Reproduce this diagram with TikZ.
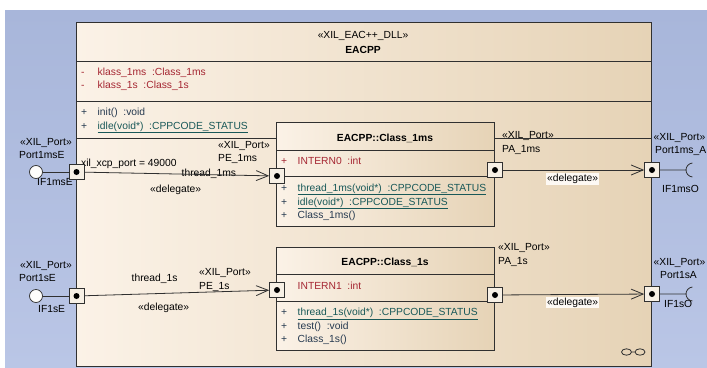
\documentclass[tikz,border=0pt]{standalone}
\usepackage{fontspec}
\setmainfont{Liberation Sans}
\usetikzlibrary{positioning}
\usetikzlibrary{arrows.meta}

\definecolor{bgtop}{RGB}{168,182,218}
\definecolor{bgbot}{RGB}{186,198,230}
\definecolor{boxl}{RGB}{251,242,231}
\definecolor{boxr}{RGB}{230,211,182}
\definecolor{attrred}{RGB}{165,38,50}
\definecolor{opblue}{RGB}{38,58,80}
\definecolor{opteal}{RGB}{24,88,88}
\definecolor{edgegray}{RGB}{48,48,48}
\definecolor{portfill}{RGB}{247,240,229}

\begin{document}
\begin{tikzpicture}[
  x=1pt, y=-1pt,
  classbox/.style={draw=edgegray,line width=0.8pt,left color=boxl,right color=boxr,inner sep=0pt},
  port/.style={draw=edgegray,line width=0.7pt,fill=portfill,minimum size=15pt,inner sep=0pt,
    path picture={\fill[black] (path picture bounding box.center) circle (3pt);}},
  ball/.style={draw=edgegray,line width=0.7pt,circle,fill=white!85!boxl,minimum size=13pt,inner sep=0pt},
  txt/.style={anchor=base west,inner sep=0pt,font=\fontsize{10.3}{12}\selectfont},
  ctxt/.style={txt,anchor=base},
  bold/.style={txt,anchor=base,font=\fontsize{10.3}{12}\selectfont\bfseries},
  dlbl/.style={txt,fill=white!55!boxl,inner sep=1pt},
  delegate/.style={draw=edgegray,line width=0.8pt,-{Straight Barb[length=12pt,width=10pt]}},
  wire/.style={draw=edgegray,line width=0.8pt},
  sep/.style={draw=edgegray,line width=0.8pt}
]
  \shade[top color=bgtop,bottom color=bgbot] (5,10) rectangle (707,367);
  \useasboundingbox (0,0) rectangle (707,367);

  % component EACPP
  \node[classbox,minimum width=575pt,minimum height=344pt] (eacpp) at (363.5,194.5) {};
  \draw[sep] (76,61) -- (651,61);
  \draw[sep] (76,101) -- (651,101);
  \draw[sep] (76,138) -- (651,138);
  \node[ctxt] (ster) at (363,38.5) {«XIL\_EAC++\_DLL»};
  \node[bold] (eacname) at (363,53) {EACPP};
  \node[txt,attrred] (am1) at (81,75) {-};
  \node[txt,attrred] (a1) at (97.5,75) {klass\_1ms \ :Class\_1ms};
  \node[txt,attrred] (am2) at (81,88.5) {-};
  \node[txt,attrred] (a2) at (97.5,88.5) {klass\_1s \ :Class\_1s};
  \node[txt,opblue] (op1) at (81,115.5) {+};
  \node[txt,opblue] (o1) at (97.5,115.5) {init() \ :void};
  \node[txt,opblue] (op2) at (81,129) {+};
  \node[txt,opteal] (o2) at (97.5,129) {\underline{idle(void*) \ :CPPCODE\_STATUS}};

  % parts
  \node[classbox,minimum width=218pt,minimum height=104pt] (cls1ms) at (385,174) {};
  \draw[sep] (276,150) -- (494,150);
  \draw[sep] (276,176) -- (494,176);
  \node[bold] (c1name) at (385,141) {EACPP::Class\_1ms};
  \node[txt,attrred] (c1p1) at (281,164) {+};
  \node[txt,attrred] (c1a1) at (297.5,164) {INTERN0 \ :int};
  \node[txt,opblue] (c1p2) at (281,191) {+};
  \node[txt,opteal] (c1o1) at (297.5,191) {\underline{thread\_1ms(void*) \ :CPPCODE\_STATUS}};
  \node[txt,opblue] (c1p3) at (281,205) {+};
  \node[txt,opteal] (c1o2) at (297.5,205) {\underline{idle(void*) \ :CPPCODE\_STATUS}};
  \node[txt,opblue] (c1p4) at (281,218.5) {+};
  \node[txt,opblue] (c1o3) at (297.5,218.5) {Class\_1ms()};

  \node[classbox,minimum width=218pt,minimum height=103pt] (cls1s) at (385,298.5) {};
  \draw[sep] (276,274) -- (494,274);
  \draw[sep] (276,301) -- (494,301);
  \node[bold] (c2name) at (385,265) {EACPP::Class\_1s};
  \node[txt,attrred] (c2a1) at (297.5,289) {INTERN1 \ :int};
  \node[txt,opblue] (c2p1) at (281,315.5) {+};
  \node[txt,opteal] (c2o1) at (297.5,315.5) {\underline{thread\_1s(void*) \ :CPPCODE\_STATUS}};
  \node[txt,opblue] (c2p2) at (281,329) {+};
  \node[txt,opblue] (c2o2) at (297.5,329) {test() \ :void};
  \node[txt,opblue] (c2p3) at (281,342.5) {+};
  \node[txt,opblue] (c2o3) at (297.5,342.5) {Class\_1s()};

  % port labels
  \node[txt] (l1msEs) at (20,145) {«XIL\_Port»};
  \node[txt] (l1msEn) at (19,158.3) {Port1msE};
  \node[txt] (l1msEi) at (37,185.7) {IF1msE};
  \node[txt] (xcp) at (81,166.7) {xil\_xcp\_port = 49000};
  \node[txt] (th1ms) at (181.5,176) {thread\_1ms};
  \node[txt] (dl1) at (150,192.7) {«delegate»};
  \node[txt] (lpe1mss) at (218,148.3) {«XIL\_Port»};
  \node[txt] (lpe1msn) at (218,161.7) {PE\_1ms};
  \node[txt] (lpa1mss) at (502,138) {«XIL\_Port»};
  \node[txt] (lpa1msn) at (502,152) {PA\_1ms};
  \node[dlbl] (dl2) at (546,181.7) {«delegate»};
  \node[txt] (l1msAs) at (653.5,140) {«XIL\_Port»};
  \node[txt] (l1msAn) at (655,153) {Port1ms\_A};
  \node[txt] (l1msAi) at (662,192) {IF1msO};

  \node[txt] (l1sEs) at (20,268) {«XIL\_Port»};
  \node[txt] (l1sEn) at (19,281.7) {Port1sE};
  \node[txt] (l1sEi) at (38,312.7) {IF1sE};
  \node[txt] (th1s) at (131.5,281) {thread\_1s};
  \node[txt] (dl3) at (138,310) {«delegate»};
  \node[txt] (lpe1ss) at (199,275.7) {«XIL\_Port»};
  \node[txt] (lpe1sn) at (199,289) {PE\_1s};
  \node[txt] (lpa1ss) at (498,250.7) {«XIL\_Port»};
  \node[txt] (lpa1sn) at (498,264) {PA\_1s};
  \node[dlbl] (dl4) at (546,305) {«delegate»};
  \node[txt] (l1sAs) at (653.5,265.7) {«XIL\_Port»};
  \node[txt] (l1sAn) at (660,278) {Port1sA};
  \node[txt] (l1sAi) at (664,307.7) {IF1sO};

  % ports
  \node[port] (p1msE) at (76.5,172) {};
  \node[port] (pe1ms) at (277,176) {};
  \node[port] (pa1ms) at (495,170) {};
  \node[port] (p1msA) at (652,170) {};
  \node[port] (p1sE) at (76.5,296) {};
  \node[port] (pe1s) at (277,290) {};
  \node[port] (pa1s) at (495,295) {};
  \node[port] (p1sA) at (652,294) {};

  % provided / required interfaces
  \node[ball] (if1msE) at (36,172) {};
  \node[ball] (if1sE) at (36,296) {};
  \coordinate (if1msO) at (686,170);
  \coordinate (if1sO) at (686,294);
  \draw[wire] (if1msE) -- (p1msE);
  \draw[wire] (if1sE) -- (p1sE);
  \draw[wire] (p1msA) -- (if1msO) arc[start angle=180,end angle=95,radius=7pt];
  \draw[wire] (if1msO) arc[start angle=180,end angle=265,radius=7pt];
  \draw[wire] (p1sA) -- (if1sO) arc[start angle=180,end angle=95,radius=7pt];
  \draw[wire] (if1sO) arc[start angle=180,end angle=265,radius=7pt];

  \path (p1msE) edge[delegate] (pe1ms)
        (pa1ms) edge[delegate] (p1msA)
        (p1sE) edge[delegate] (pe1s)
        (pa1s) edge[delegate] (p1sA)
  ;

  % composite icon
  \draw[edgegray,line width=0.8pt] (626.5,352) ellipse[x radius=5pt,y radius=3.2pt]
    (640,352) ellipse[x radius=5pt,y radius=3.2pt] (631.5,352) -- (635,352);
\end{tikzpicture}
\end{document}
